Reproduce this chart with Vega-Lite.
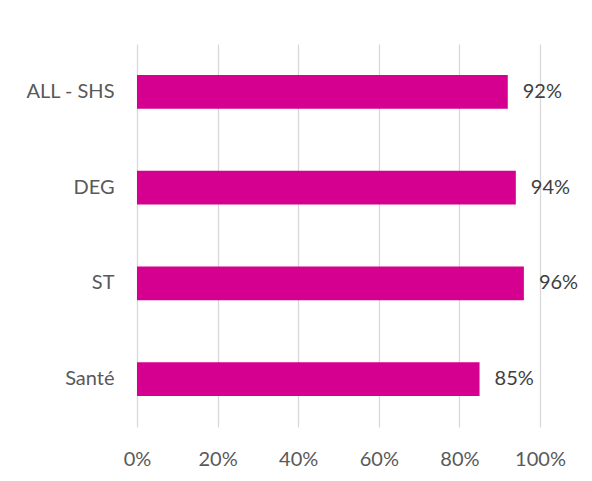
{
  "$schema": "https://vega.github.io/schema/vega-lite/v6.json",
  "width": 403,
  "height": 383,
  "autosize": {"type": "none"},
  "padding": {"left": 137, "top": 44, "right": 52, "bottom": 54},
  "background": "white",
  "config": {
    "view": {"stroke": null},
    "font": "Lato"
  },
  "data": {
    "values": [
      {"group": "ALL - SHS", "value": 0.92},
      {"group": "DEG", "value": 0.94},
      {"group": "ST", "value": 0.96},
      {"group": "Santé", "value": 0.85}
    ]
  },
  "encoding": {
    "y": {
      "field": "group",
      "type": "nominal",
      "sort": ["ALL - SHS", "DEG", "ST", "Santé"],
      "scale": {"paddingInner": 0.65, "paddingOuter": 0.325},
      "axis": {
        "title": null,
        "domain": false,
        "ticks": false,
        "labelPadding": 23,
        "labelFontSize": 20,
        "labelFontWeight": "normal",
        "labelColor": "#595959",
        "labelFont": "Lato"
      }
    },
    "x": {
      "field": "value",
      "type": "quantitative",
      "scale": {"domain": [0, 1], "nice": false},
      "axis": {
        "title": null,
        "format": ".0%",
        "values": [0, 0.2, 0.4, 0.6, 0.8, 1],
        "domain": false,
        "ticks": false,
        "grid": true,
        "gridColor": "#D9D9D9",
        "gridWidth": 1.3,
        "labelPadding": 22,
        "labelFontSize": 20,
        "labelFontWeight": "normal",
        "labelColor": "#595959",
        "labelFont": "Lato",
        "labelFlush": false
      }
    }
  },
  "layer": [
    {"mark": {"type": "bar", "color": "#D5008F"}},
    {
      "mark": {"type": "text", "align": "left", "baseline": "middle", "dx": 15, "fontSize": 20, "color": "#404040", "font": "Lato"},
      "encoding": {"text": {"field": "value", "type": "quantitative", "format": ".0%"}}
    }
  ]
}
